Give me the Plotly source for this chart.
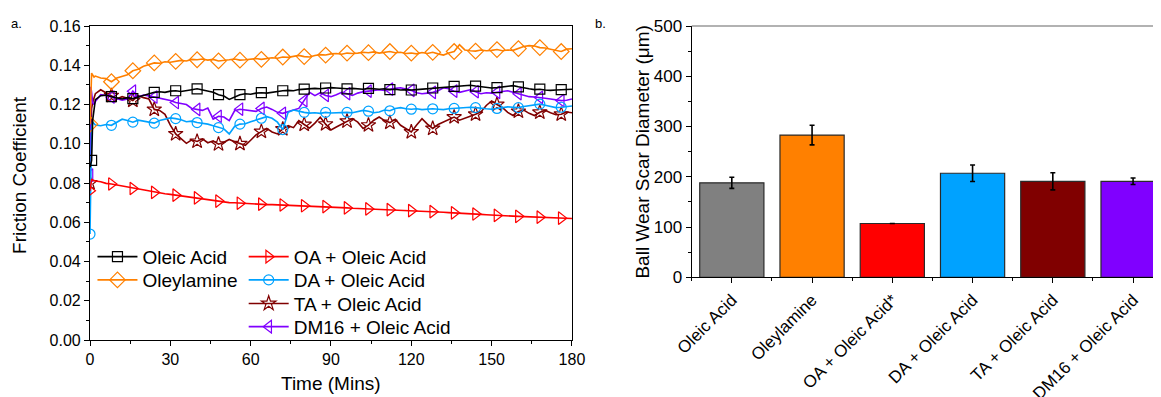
import plotly.graph_objects as go

# ---------------- data: panel a (friction coefficient vs time) ----------------
TIME = [0, 0.3, 0.6, 1, 1.5,
        2, 4, 6, 8, 10, 12, 14, 16, 18, 20, 22, 24, 26, 28, 30,
        32, 34, 36, 38, 40, 42, 44, 46, 48, 50, 52, 54, 56, 58, 60,
        62, 64, 66, 68, 70, 72, 74, 76, 78, 80, 82, 84, 86, 88, 90,
        92, 94, 96, 98, 100, 102, 104, 106, 108, 110, 112, 114, 116, 118, 120,
        122, 124, 126, 128, 130, 132, 134, 136, 138, 140, 142, 144, 146, 148, 150,
        152, 154, 156, 158, 160, 162, 164, 166, 168, 170, 172, 174, 176, 178, 180]

OLEIC_ACID = [0.088, 0.090, 0.0915, 0.112, 0.119,
    0.1225, 0.1245, 0.1248, 0.1240, 0.1232, 0.1228, 0.1235, 0.1230, 0.1238, 0.1245, 0.1255, 0.1262, 0.1265, 0.1262, 0.1268,
    0.1270, 0.1266, 0.1272, 0.1275, 0.1280, 0.1274, 0.1268, 0.1262, 0.1250, 0.1243, 0.1226, 0.1238, 0.1250, 0.1255, 0.1252,
    0.1258, 0.1260, 0.1258, 0.1262, 0.1268, 0.1270, 0.1272, 0.1270, 0.1276, 0.1278, 0.1280, 0.1282, 0.1280, 0.1284, 0.1286,
    0.1284, 0.1282, 0.1280, 0.1282, 0.1280, 0.1278, 0.1282, 0.1280, 0.1278, 0.1280, 0.1276, 0.1278, 0.1274, 0.1276, 0.1274,
    0.1276, 0.1278, 0.1282, 0.1284, 0.1286, 0.1288, 0.1290, 0.1292, 0.1295, 0.1298, 0.1298, 0.1294, 0.1290, 0.1286, 0.1284,
    0.1286, 0.1290, 0.1294, 0.1296, 0.1290, 0.1284, 0.1280, 0.1276, 0.1278, 0.1274, 0.1272, 0.1274, 0.1276, 0.1278, 0.1278]

OLEYLAMINE = [0.110, 0.128, 0.136, 0.135, 0.134,
    0.1345, 0.1335, 0.1332, 0.1316, 0.1335, 0.1342, 0.1352, 0.1372, 0.1380, 0.1395, 0.1405, 0.1412, 0.1410, 0.1418, 0.1415,
    0.1420, 0.1425, 0.1422, 0.1430, 0.1428, 0.1432, 0.1426, 0.1430, 0.1422, 0.1424, 0.1428, 0.1432, 0.1426, 0.1428, 0.1430,
    0.1434, 0.1430, 0.1434, 0.1438, 0.1436, 0.1442, 0.1440, 0.1446, 0.1450, 0.1444, 0.1442, 0.1450, 0.1454, 0.1452, 0.1458,
    0.1460, 0.1456, 0.1462, 0.1460, 0.1462, 0.1466, 0.1464, 0.1468, 0.1462, 0.1466, 0.1470, 0.1464, 0.1466, 0.1460, 0.1462,
    0.1458, 0.1465, 0.1460, 0.1466, 0.1458, 0.1452, 0.1462, 0.1470, 0.1505, 0.1478, 0.1474, 0.1472, 0.1478, 0.1474, 0.1476,
    0.1480, 0.1474, 0.1478, 0.1476, 0.1485, 0.1496, 0.1500, 0.1498, 0.1490, 0.1488, 0.1482, 0.1476, 0.1470, 0.1482, 0.1484]

OA_OLEIC = [0.076, 0.080, 0.082, 0.0815, 0.0812,
    0.0810, 0.0806, 0.0798, 0.0795, 0.0790, 0.0784, 0.0778, 0.0772, 0.0768, 0.0764, 0.0758, 0.0752, 0.0748, 0.0745, 0.0742,
    0.0738, 0.0735, 0.0731, 0.0728, 0.0724, 0.0720, 0.0716, 0.0712, 0.0708, 0.0702, 0.0700, 0.0699, 0.0697, 0.0695, 0.0695,
    0.0694, 0.0692, 0.0690, 0.0690, 0.0689, 0.0688, 0.0687, 0.0686, 0.0685, 0.0684, 0.0683, 0.0682, 0.0681, 0.0680, 0.0679,
    0.0677, 0.0675, 0.0673, 0.0671, 0.0670, 0.0669, 0.0668, 0.0667, 0.0666, 0.0665, 0.0664, 0.0663, 0.0661, 0.0660, 0.0659,
    0.0658, 0.0656, 0.0655, 0.0654, 0.0652, 0.0651, 0.0649, 0.0648, 0.0646, 0.0645, 0.0644, 0.0642, 0.0640, 0.0638, 0.0636,
    0.0635, 0.0634, 0.0633, 0.0631, 0.0630, 0.0629, 0.0628, 0.0627, 0.0626, 0.0625, 0.0624, 0.0622, 0.0621, 0.0620, 0.0619]

DA_OLEIC = [0.054, 0.085, 0.108, 0.111, 0.110,
    0.1095, 0.1092, 0.1098, 0.1094, 0.1110, 0.1125, 0.1118, 0.1110, 0.1120, 0.1115, 0.1112, 0.1105, 0.1118, 0.1125, 0.1132,
    0.1128, 0.1122, 0.1112, 0.1115, 0.1108, 0.1105, 0.1100, 0.1092, 0.1082, 0.1076, 0.1050, 0.1088, 0.1100, 0.1102, 0.1112,
    0.1120, 0.1130, 0.1138, 0.1130, 0.1110, 0.1072, 0.1160, 0.1172, 0.1165, 0.1160, 0.1156, 0.1158, 0.1155, 0.1160, 0.1157,
    0.1158, 0.1162, 0.1160, 0.1158, 0.1163, 0.1170, 0.1166, 0.1158, 0.1162, 0.1172, 0.1168, 0.1180, 0.1184, 0.1178, 0.1176,
    0.1178, 0.1174, 0.1176, 0.1178, 0.1176, 0.1174, 0.1178, 0.1180, 0.1182, 0.1184, 0.1186, 0.1184, 0.1180, 0.1178, 0.1176,
    0.1180, 0.1184, 0.1188, 0.1186, 0.1184, 0.1190, 0.1194, 0.1198, 0.1202, 0.1196, 0.1188, 0.1184, 0.1186, 0.1190, 0.1192]

TA_OLEIC = [0.080, 0.110, 0.118, 0.121, 0.124,
    0.1255, 0.1275, 0.1260, 0.1245, 0.1228, 0.1240, 0.1232, 0.1220, 0.1245, 0.1235, 0.1228, 0.1175, 0.1170, 0.1150, 0.1095,
    0.1050, 0.1025, 0.1002, 0.1020, 0.1012, 0.1025, 0.1005, 0.1015, 0.0998, 0.1008, 0.1022, 0.1010, 0.1000, 0.0992, 0.1018,
    0.1045, 0.1062, 0.1078, 0.1060, 0.1050, 0.1075, 0.1092, 0.1082, 0.1118, 0.1098, 0.1080, 0.1105, 0.1135, 0.1100, 0.1070,
    0.1085, 0.1100, 0.1115, 0.1128, 0.1110, 0.1078, 0.1095, 0.1120, 0.1136, 0.1118, 0.1108, 0.1125, 0.1094, 0.1075, 0.1060,
    0.1095, 0.1128, 0.1100, 0.1078, 0.1098, 0.1110, 0.1125, 0.1136, 0.1120, 0.1128, 0.1140, 0.1150, 0.1162, 0.1195, 0.1218,
    0.1200, 0.1185, 0.1160, 0.1144, 0.1165, 0.1172, 0.1155, 0.1144, 0.1160, 0.1170, 0.1158, 0.1148, 0.1150, 0.1162, 0.1158]

DM16_OLEIC = [0.084, 0.129, 0.126, 0.121, 0.120,
    0.1215, 0.1250, 0.1246, 0.1238, 0.1228, 0.1222, 0.1228, 0.1268, 0.1238, 0.1248, 0.1244, 0.1238, 0.1232, 0.1225, 0.1220,
    0.1210, 0.1204, 0.1200, 0.1180, 0.1175, 0.1170, 0.1182, 0.1125, 0.1140, 0.1136, 0.1118, 0.1168, 0.1176, 0.1172, 0.1170,
    0.1165, 0.1180, 0.1187, 0.1175, 0.1160, 0.1155, 0.1165, 0.1172, 0.1180, 0.1220, 0.1262, 0.1245, 0.1260, 0.1246, 0.1240,
    0.1250, 0.1262, 0.1255, 0.1246, 0.1258, 0.1265, 0.1268, 0.1272, 0.1275, 0.1272, 0.1278, 0.1282, 0.1285, 0.1278, 0.1272,
    0.1260, 0.1255, 0.1258, 0.1262, 0.1270, 0.1285, 0.1280, 0.1268, 0.1262, 0.1270, 0.1275, 0.1265, 0.1255, 0.1260, 0.1258,
    0.1262, 0.1266, 0.1270, 0.1262, 0.1255, 0.1245, 0.1240, 0.1238, 0.1236, 0.1232, 0.1228, 0.1225, 0.1220, 0.1222, 0.1228]

SERIES = [
    # name, values, colour, symbol, marker size, legend id, first marker index
    ("Oleic Acid", OLEIC_ACID, "#000000", "square-open", 10, "legend", 2),
    ("Oleylamine", OLEYLAMINE, "#FF8000", "diamond-open", 12, "legend2", 0),
    ("OA + Oleic Acid", OA_OLEIC, "#FF0000", "triangle-right-open", 11, "legend3", 0),
    ("DA + Oleic Acid", DA_OLEIC, "#00A2FF", "circle-open", 10, "legend4", 0),
    ("TA + Oleic Acid", TA_OLEIC, "#800000", "star-open", 11, "legend5", 0),
    ("DM16 + Oleic Acid", DM16_OLEIC, "#8000FF", "triangle-left-open", 11, "legend6", 0),
]

# ---------------- data: panel b (wear scar) ----------------
CATEGORIES = ["Oleic Acid", "Oleylamine", "OA + Oleic Acid*", "DA + Oleic Acid",
              "TA + Oleic Acid", "DM16 + Oleic Acid"]
SCAR = [188, 283, 107, 207, 191, 191]
SCAR_ERR = [11, 19.5, 0, 16.5, 17, 6.5]
BAR_COLORS = ["#808080", "#FF8000", "#FF0000", "#00A2FF", "#800000", "#8000FF"]

FONT = "Liberation Sans, Arial, sans-serif"

fig = go.Figure()

draw_order = [4, 5, 3, 2, 1, 0]  # back to front
for k in draw_order:
    name, vals, col, sym, msz, leg, first = SERIES[k]
    fig.add_trace(go.Scatter(x=TIME, y=vals, mode="lines",
                             line=dict(color=col, width=1.6),
                             showlegend=False, hoverinfo="skip",
                             xaxis="x", yaxis="y"))
    idx = [first] + list(range(8, len(TIME), 4))
    fig.add_trace(go.Scatter(x=[TIME[i] for i in idx], y=[vals[i] for i in idx],
                             mode="markers",
                             marker=dict(symbol=sym, size=msz, color=col,
                                         line=dict(color=col, width=1.2)),
                             showlegend=False, xaxis="x", yaxis="y"))

for name, vals, col, sym, msz, leg, first in SERIES:
    fig.add_trace(go.Scatter(x=[None], y=[None], mode="lines+markers", name=name,
                             line=dict(color=col, width=1.6),
                             marker=dict(symbol=sym, size=msz, color=col,
                                         line=dict(color=col, width=1.2)),
                             legend=leg, xaxis="x", yaxis="y"))

fig.add_trace(go.Bar(x=list(range(len(CATEGORIES))), y=SCAR,
                     marker=dict(color=BAR_COLORS, line=dict(color="#2a2a2a", width=1.2)),
                     width=0.8,
                     error_y=dict(type="data", array=SCAR_ERR, visible=True,
                                  color="#000000", thickness=1.6, width=2.5),
                     showlegend=False, xaxis="x2", yaxis="y2"))

axis_common = dict(showgrid=False, zeroline=False, linecolor="#000000", linewidth=1.2,
                   ticks="outside", ticklen=5, tickwidth=1.2, tickcolor="#000000",
                   automargin=False)

# legend layout: two columns, one legend per row so rows sit where the reference has them
COL1_X, COL2_X = 0.0023, 0.1435
legend_pos = {"legend": (COL1_X, 0.265), "legend2": (COL1_X, 0.191),
              "legend3": (COL2_X, 0.265), "legend4": (COL2_X, 0.191),
              "legend5": (COL2_X, 0.116), "legend6": (COL2_X, 0.042)}
legend_layout = {}
for key, (lx, ly) in legend_pos.items():
    legend_layout[key] = dict(x=lx, y=ly, xanchor="left", yanchor="middle",
                              bgcolor="rgba(0,0,0,0)", borderwidth=0, itemwidth=40,
                              font=dict(size=19, family=FONT))

fig.update_layout(
    width=1153, height=389,
    margin=dict(l=82, r=0, t=17.7, b=57),
    paper_bgcolor="white", plot_bgcolor="white",
    font=dict(family=FONT, color="#000000", size=16),
    xaxis=dict(domain=[0, 0.45], range=[0, 180], dtick=30, tick0=0,
               mirror=True, tickfont=dict(size=16),
               minor=dict(dtick=15, ticklen=3, ticks="outside", tickcolor="#000000", tickwidth=1),
               **axis_common),
    yaxis=dict(domain=[0, 1], range=[0, 0.16], dtick=0.02, tickformat=".2f",
               mirror=True, tickfont=dict(size=16),
               minor=dict(dtick=0.01, ticklen=3, ticks="outside", tickcolor="#000000", tickwidth=1),
               **axis_common),
    xaxis2=dict(domain=[0.5618, 1], range=[-0.5, 5.348], anchor="y2",
                tickvals=list(range(len(CATEGORIES))), ticktext=CATEGORIES,
                tickangle=-45, tickfont=dict(size=17), mirror=False,
                minor=dict(tick0=0.5, dtick=1, ticklen=3, ticks="outside", tickcolor="#000000", tickwidth=1),
                **axis_common),
    yaxis2=dict(domain=[0.1997, 1], range=[0, 500], dtick=100, anchor="x2",
                tickfont=dict(size=17), mirror=False,
                minor=dict(dtick=50, ticklen=3, ticks="outside", tickcolor="#000000", tickwidth=1),
                **axis_common),
    shapes=[dict(type="line", xref="x2 domain", yref="y2 domain", x0=0, x1=1, y0=1, y1=1,
                 line=dict(color="#666666", width=1.2))],
    annotations=[
        dict(text="a.", x=-0.0756, y=1.008, xref="paper", yref="paper", xanchor="left",
             yanchor="middle", showarrow=False, font=dict(size=13)),
        dict(text="b.", x=0.4697, y=1.008, xref="paper", yref="paper", xanchor="left",
             yanchor="middle", showarrow=False, font=dict(size=13)),
        dict(text="Friction Coefficient", x=-0.0654, y=0.5255, xref="paper", yref="paper",
             xanchor="center", yanchor="middle", textangle=-90, showarrow=False,
             font=dict(size=19)),
        dict(text="Time (Mins)", x=0.225, y=-0.140, xref="paper", yref="paper",
             xanchor="center", yanchor="middle", showarrow=False, font=dict(size=19)),
        dict(text="Ball Wear Scar Diameter (μm)", x=0.5163, y=0.600, xref="paper", yref="paper",
             xanchor="center", yanchor="middle", textangle=-90, showarrow=False,
             font=dict(size=19)),
    ],
    **legend_layout,
)

fig.write_html("out.html")
